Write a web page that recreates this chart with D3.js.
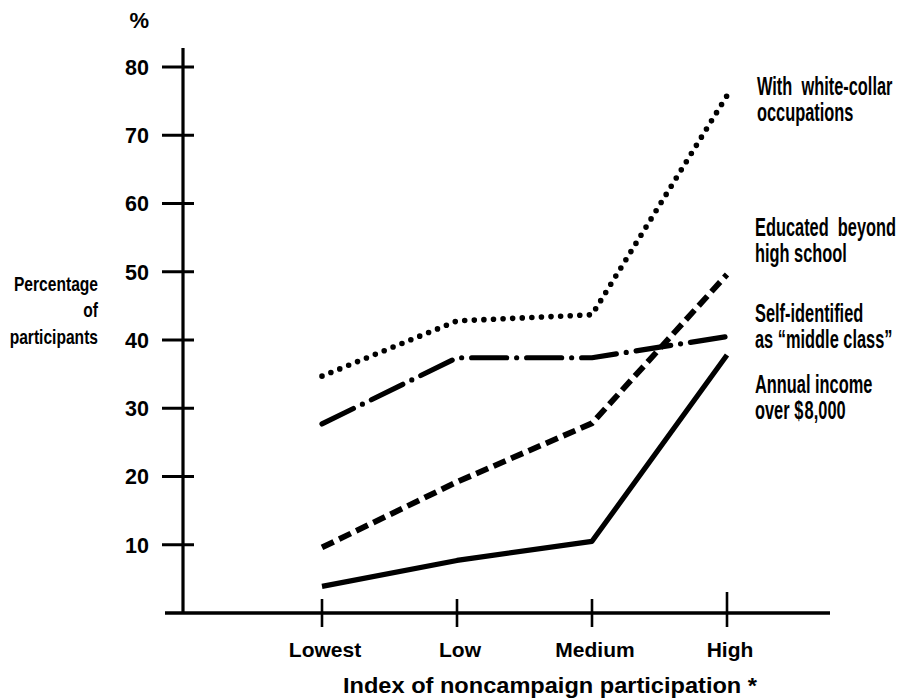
<!DOCTYPE html>
<html>
<head>
<meta charset="utf-8">
<script src="https://cdn.jsdelivr.net/npm/d3@7"></script>
<style>
  html, body { margin: 0; padding: 0; background: #fff; }
  svg { display: block; }
</style>
</head>
<body>
<svg id="chart" width="905" height="698"></svg>
<script>
// Participation level categories along the horizontal axis
const categories = ["Lowest", "Low", "Medium", "High"];
const yTicks = [10, 20, 30, 40, 50, 60, 70, 80];

// Percentage of participants with each characteristic
const whiteCollar  = [34.7, 42.8, 43.7, 75.8];
const educated     = [9.6, 19.2, 27.8, 49.6];
const middleClass  = [27.7, 37.4, 37.4, 40.5];
const income       = [3.9, 7.7, 10.5, 37.8];

const seriesNames = ["whiteCollar", "educated", "middleClass", "income"];
const seriesLabels = [
  ["With  white-collar", "occupations"],
  ["Educated  beyond", "high school"],
  ["Self-identified", "as \u201cmiddle class\u201d"],
  ["Annual income", "over $\u200a8,000"]
];

const svg = d3.select("#chart");
const ink = "#000";
const font = "Liberation Sans, Arial, Helvetica, sans-serif";

const x = d3.scalePoint().domain(categories).range([322, 727]);
const y = d3.scaleLinear().domain([0, 80]).range([613, 67]);
const axisX = 183;

// Y axis: long spine with cross ticks
svg.append("line")
  .attr("x1", axisX).attr("x2", axisX)
  .attr("y1", 48).attr("y2", y(0))
  .attr("stroke", ink).attr("stroke-width", 3.2);

const yt = svg.append("g").selectAll("g").data(yTicks).join("g")
  .attr("transform", d => `translate(0,${y(d)})`);
yt.append("line")
  .attr("x1", axisX - 21).attr("x2", axisX + 11)
  .attr("stroke", ink).attr("stroke-width", 3);
yt.append("text")
  .attr("x", 149).attr("dy", "0.36em")
  .attr("text-anchor", "end")
  .attr("font-family", font)
  .attr("font-weight", "bold").attr("font-size", 21.5)
  .text(d => d);

svg.append("text")
  .attr("x", 149).attr("y", 28)
  .attr("text-anchor", "end")
  .attr("font-family", font)
  .attr("font-weight", "bold").attr("font-size", 22)
  .text("%");

// X axis with category ticks
svg.append("line")
  .attr("x1", 165).attr("x2", 830)
  .attr("y1", y(0)).attr("y2", y(0))
  .attr("stroke", ink).attr("stroke-width", 3.5);

const xt = svg.append("g").selectAll("g").data(categories).join("g")
  .attr("transform", d => `translate(${x(d)},${y(0)})`);
xt.append("line")
  .attr("y1", d => d === "High" ? -21 : -14).attr("y2", 14)
  .attr("stroke", ink).attr("stroke-width", 2.6);
xt.append("text")
  .attr("x", 3).attr("y", 44)
  .attr("text-anchor", "middle")
  .attr("font-family", font)
  .attr("font-weight", "bold").attr("font-size", 21)
  .text(d => d);

svg.append("text")
  .attr("x", 550).attr("y", 693)
  .attr("text-anchor", "middle")
  .attr("font-family", font)
  .attr("font-weight", "bold").attr("font-size", 22)
  .attr("textLength", 414).attr("lengthAdjust", "spacingAndGlyphs")
  .text("Index of noncampaign participation *");

// Y axis title, set in a condensed face
const yTitle = svg.append("g").attr("transform", "translate(98,0) scale(0.8,1)");
[["Percentage", 291], ["of", 317], ["participants", 344]].forEach(([t, yy]) => {
  yTitle.append("text")
    .attr("x", 0).attr("y", yy)
    .attr("text-anchor", "end")
    .attr("font-family", font)
    .attr("font-weight", "bold").attr("font-size", 19.5)
    .text(t);
});

// Series lines
const values = { whiteCollar, educated, middleClass, income };
const styles = {
  whiteCollar: { width: 5.6, dash: "0 9.6", cap: "round" },
  educated:    { width: 5.8, dash: "13 6", cap: "butt" },
  middleClass: { width: 5.2, dash: "35 10 0 10", cap: "round" },
  income:      { width: 5.2, dash: null, cap: "butt" }
};

const line = d3.line()
  .x((d, i) => x(categories[i]))
  .y(d => y(d));

seriesNames.forEach(name => {
  const s = styles[name];
  svg.append("path")
    .datum(values[name])
    .attr("d", line)
    .attr("fill", "none")
    .attr("stroke", ink)
    .attr("stroke-width", s.width)
    .attr("stroke-linecap", s.cap)
    .attr("stroke-linejoin", "round")
    .attr("stroke-dasharray", s.dash);
});

// Series labels to the right of the last category, tall condensed lettering
const labelFirstBaseline = [95, 236, 322, 393];
const labelLeft = [757, 755, 755, 755];
seriesNames.forEach((name, k) => {
  const g = svg.append("g")
    .attr("transform", `translate(${labelLeft[k]},${labelFirstBaseline[k]}) scale(0.78,1.2)`);
  seriesLabels[k].forEach((t, j) => {
    g.append("text")
      .attr("x", 0).attr("y", j * 22)
      .attr("font-family", font)
      .attr("font-weight", "bold").attr("font-size", 21)
      .style("white-space", "pre")
      .text(t);
  });
});
</script>
</body>
</html>
